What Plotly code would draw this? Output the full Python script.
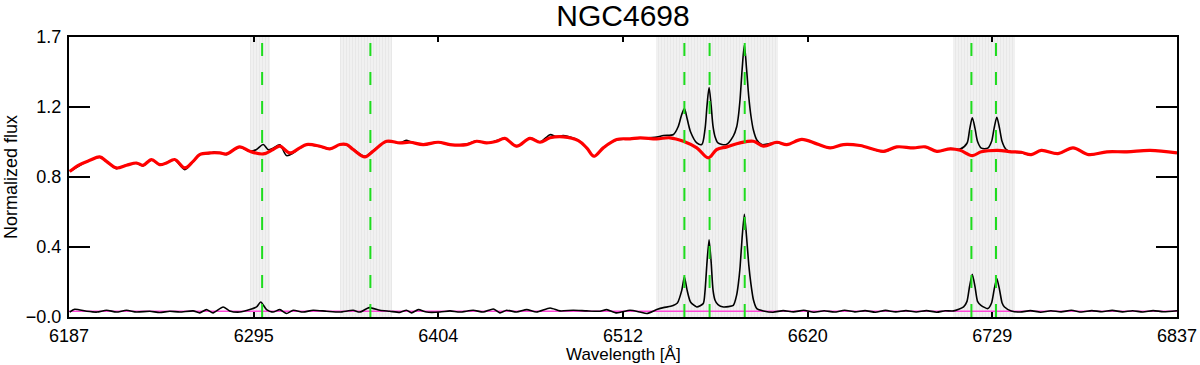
import plotly.graph_objects as go

# wavelength axis
x_ticks = [6187, 6295.33, 6403.67, 6512, 6620.33, 6728.67, 6837]
x_tick_labels = ["6187", "6295", "6404", "6512", "6620", "6729", "6837"]
y_ticks = [-0.035, 0.39, 0.815, 1.24, 1.665]
y_tick_labels = ["\u22120.0", "0.4", "0.8", "1.2", "1.7"]

# masked regions around emission lines (start, end in Angstrom)
mask_start = [6293.2, 6345.9, 6531.2, 6705.3]
mask_end = [6305.2, 6376.3, 6602.8, 6741.7]

# emission line centres
line_centres = [6300.3, 6363.8, 6548.0, 6562.8, 6583.4, 6716.4, 6730.8]

# stellar model (red)
model_wave = [6187.4, 6193.3, 6199.2, 6205.0, 6209.0, 6214.8, 6220.7, 6226.6, 6230.4, 6235.4,
              6240.2, 6244.2, 6249.0, 6254.9, 6259.8, 6263.7, 6269.6, 6275.5, 6279.4, 6287.2,
              6293.1, 6300.9, 6306.7, 6310.7, 6316.5, 6322.4, 6326.3, 6334.2, 6340.0, 6345.9,
              6349.8, 6353.7, 6360.6, 6365.4, 6373.3, 6381.1, 6387.0, 6394.8, 6403.6, 6410.5,
              6420.3, 6426.1, 6432.0, 6437.9, 6442.7, 6449.6, 6457.4, 6463.3, 6469.2, 6477.0,
              6485.8, 6490.7, 6495.0, 6500.4, 6508.3, 6516.1, 6522.0, 6531.8, 6539.6, 6547.4,
              6555.3, 6562.1, 6567.0, 6572.9, 6580.7, 6588.5, 6594.4, 6602.2, 6608.1, 6616.9,
              6625.7, 6633.5, 6641.3, 6651.1, 6664.8, 6672.6, 6682.4, 6689.3, 6696.1, 6704.0,
              6709.8, 6716.9, 6722.2, 6731.9, 6739.8, 6745.6, 6751.5, 6757.4, 6767.2, 6776.0,
              6785.1, 6795.9, 6807.6, 6821.3, 6837.0]
model_flux = [0.849, 0.890, 0.916, 0.937, 0.910, 0.870, 0.886, 0.900, 0.886, 0.921,
              0.890, 0.900, 0.921, 0.870, 0.910, 0.951, 0.961, 0.961, 0.955, 0.998,
              0.971, 0.955, 0.982, 1.002, 0.961, 0.992, 1.012, 1.002, 0.986, 1.012,
              1.012, 0.982, 0.937, 0.971, 1.032, 1.022, 1.026, 1.012, 1.026, 1.012,
              1.012, 1.032, 1.022, 1.032, 1.049, 1.002, 1.049, 1.026, 1.053, 1.059,
              1.036, 0.992, 0.941, 0.992, 1.043, 1.047, 1.053, 1.047, 1.053, 1.032,
              0.992, 0.931, 0.982, 0.998, 1.022, 1.032, 1.002, 1.026, 1.012, 1.043,
              1.016, 0.992, 1.012, 1.006, 0.971, 0.998, 0.992, 0.998, 0.971, 0.986,
              0.977, 0.945, 0.968, 0.977, 0.968, 0.965, 0.951, 0.977, 0.957, 0.992,
              0.951, 0.968, 0.968, 0.977, 0.961]

# observed spectrum (black, top)
obs_wave = [6187.4, 6193.3, 6199.2, 6205.0, 6209.0, 6214.8, 6220.7, 6226.6, 6230.4, 6235.4,
            6240.2, 6244.2, 6249.0, 6254.9, 6259.8, 6263.7, 6269.6, 6272.0, 6275.5, 6279.4,
            6283.0, 6287.2, 6293.1, 6297.0, 6300.9, 6304.0, 6306.7, 6310.7, 6314.6, 6318.5,
            6322.4, 6326.3, 6334.2, 6340.0, 6345.9, 6349.8, 6353.7, 6360.6, 6365.4, 6373.3,
            6381.1, 6385.0, 6387.0, 6394.8, 6403.6, 6410.5, 6420.3, 6426.1, 6432.0, 6437.9,
            6442.7, 6449.6, 6457.4, 6463.3, 6469.2, 6473.0, 6477.0, 6485.8, 6490.7, 6495.0,
            6500.4, 6508.3, 6516.1, 6522.0, 6531.8, 6535.7, 6541.6, 6544.5, 6546.3, 6548.0,
            6549.6, 6551.6, 6555.3, 6558.2, 6560.1, 6561.3, 6562.5, 6563.7, 6564.8, 6566.0,
            6567.7, 6572.6, 6576.7, 6578.7, 6579.7, 6580.7, 6581.9, 6583.2, 6584.5, 6585.8,
            6587.0, 6588.5, 6590.5, 6593.4, 6602.2, 6608.1, 6616.9, 6625.7, 6633.5, 6641.3,
            6651.1, 6664.8, 6672.6, 6682.4, 6689.3, 6696.1, 6704.0, 6709.8, 6713.8, 6715.3,
            6716.9, 6718.5, 6720.0, 6722.2, 6726.0, 6728.2, 6729.7, 6731.3, 6732.9, 6734.4,
            6736.5, 6739.8, 6745.6, 6751.5, 6757.4, 6767.2, 6776.0, 6785.1, 6795.9, 6807.6,
            6821.3, 6837.0]
obs_flux = [0.849, 0.885, 0.916, 0.935, 0.908, 0.866, 0.888, 0.898, 0.884, 0.919,
            0.888, 0.902, 0.918, 0.860, 0.908, 0.953, 0.958, 0.967, 0.962, 0.950,
            0.975, 0.996, 0.972, 0.982, 1.012, 0.980, 0.990, 1.010, 0.945, 0.960,
            0.990, 1.010, 1.000, 0.984, 1.012, 1.010, 0.985, 0.940, 0.975, 1.030,
            1.022, 1.038, 1.030, 1.010, 1.028, 1.010, 1.015, 1.035, 1.020, 1.036,
            1.050, 1.000, 1.052, 1.028, 1.072, 1.060, 1.066, 1.038, 0.990, 0.940,
            0.994, 1.040, 1.047, 1.050, 1.057, 1.067, 1.073, 1.124, 1.190, 1.230,
            1.170, 1.090, 1.022, 1.012, 1.104, 1.250, 1.358, 1.250, 1.124, 1.060,
            1.022, 1.012, 1.063, 1.120, 1.185, 1.290, 1.470, 1.616, 1.470, 1.300,
            1.190, 1.100, 1.040, 1.012, 1.024, 1.012, 1.043, 1.016, 0.990, 1.012,
            1.006, 0.968, 0.998, 0.990, 0.998, 0.970, 0.988, 0.985, 1.020, 1.100,
            1.175, 1.110, 1.030, 0.990, 0.990, 1.030, 1.110, 1.178, 1.110, 1.030,
            0.985, 0.968, 0.962, 0.950, 0.977, 0.955, 0.992, 0.950, 0.968, 0.970,
            0.977, 0.961]

# residual / emission-line spectrum (black, bottom)
res_wave = [6187.4, 6190.3, 6197.5, 6203.4, 6209.0, 6214.8, 6220.7, 6226.6, 6234.4, 6240.2,
            6246.1, 6252.0, 6259.8, 6263.7, 6267.6, 6271.5, 6277.4, 6281.3, 6287.2, 6293.1,
            6297.0, 6299.5, 6302.9, 6306.7, 6310.7, 6314.6, 6318.5, 6324.3, 6330.2, 6338.1,
            6345.9, 6353.7, 6357.6, 6363.1, 6369.4, 6375.2, 6381.1, 6385.0, 6388.0, 6391.9,
            6396.8, 6404.6, 6410.5, 6416.3, 6424.1, 6430.0, 6435.9, 6439.8, 6443.7, 6449.6,
            6455.5, 6461.3, 6469.2, 6475.0, 6482.8, 6490.7, 6498.5, 6502.4, 6508.3, 6516.1,
            6522.0, 6526.0, 6531.8, 6535.7, 6540.0, 6543.9, 6546.5, 6548.0, 6549.6, 6551.6,
            6555.3, 6559.1, 6560.1, 6561.3, 6562.5, 6563.7, 6564.8, 6566.0, 6567.7, 6570.9,
            6576.7, 6578.7, 6579.7, 6580.7, 6581.9, 6583.2, 6584.5, 6585.8, 6587.0, 6588.5,
            6590.5, 6594.4, 6600.0, 6606.0, 6612.0, 6618.0, 6624.0, 6630.0, 6636.0, 6642.0,
            6648.0, 6654.0, 6660.0, 6666.0, 6672.0, 6678.0, 6684.0, 6690.0, 6696.0, 6701.0,
            6705.9, 6711.8, 6713.8, 6715.3, 6716.9, 6718.5, 6720.0, 6722.0, 6726.0, 6728.2,
            6729.7, 6731.3, 6732.9, 6734.4, 6735.8, 6739.8, 6745.0, 6751.0, 6757.0, 6763.0,
            6769.0, 6775.0, 6781.0, 6787.0, 6793.0, 6799.0, 6805.0, 6811.0, 6817.0, 6823.0,
            6829.0, 6837.0]
res_flux = [-0.005, 0.012, 0.000, -0.005, 0.006, -0.005, 0.006, -0.005, 0.000, -0.008,
            0.000, -0.005, 0.002, -0.010, 0.010, -0.010, 0.026, 0.002, -0.005, 0.010,
            0.026, 0.056, 0.010, -0.005, 0.010, -0.014, 0.006, -0.005, 0.006, 0.000,
            -0.005, 0.006, -0.005, 0.022, 0.006, 0.000, -0.007, 0.006, -0.010, 0.010,
            -0.005, -0.005, 0.002, -0.005, 0.006, -0.005, 0.014, -0.010, 0.006, -0.005,
            0.010, -0.005, 0.020, 0.002, 0.006, 0.002, 0.000, 0.010, -0.010, 0.006,
            -0.005, -0.014, 0.010, 0.022, 0.030, 0.050, 0.128, 0.209, 0.128, 0.056,
            0.026, 0.047, 0.120, 0.300, 0.433, 0.300, 0.130, 0.067, 0.040, 0.026,
            0.036, 0.100, 0.169, 0.270, 0.450, 0.589, 0.450, 0.280, 0.169, 0.070,
            0.016, 0.002, -0.006, 0.004, -0.004, 0.006, -0.006, 0.003, -0.005, 0.006,
            -0.004, 0.004, -0.006, 0.005, -0.004, 0.004, -0.005, 0.004, -0.006, 0.003,
            0.002, 0.026, 0.060, 0.150, 0.225, 0.150, 0.060, 0.036, 0.016, 0.050,
            0.130, 0.199, 0.130, 0.050, 0.026, 0.002, -0.005, 0.004, -0.006, 0.003,
            -0.004, 0.006, -0.005, 0.004, -0.003, 0.005, -0.004, 0.003, -0.005, 0.004,
            -0.003, 0.003]

zero_wave = [6187, 6837]
zero_flux = [0.0, 0.0]

FONT = "Liberation Sans, Arial, Helvetica, sans-serif"
y_lo, y_hi = y_ticks[0], y_ticks[-1]

fig = go.Figure()

# hatched grey masks
fig.add_trace(go.Bar(
    x=[(a + b) / 2 for a, b in zip(mask_start, mask_end)],
    width=[b - a for a, b in zip(mask_start, mask_end)],
    y=[y_hi - y_lo] * len(mask_start),
    base=y_lo,
    marker=dict(
        color='#efefef',
        line=dict(width=0),
        pattern=dict(shape='|', size=3, solidity=0.25, fgcolor='#dadada', bgcolor='#f1f1f1'),
    ),
    hoverinfo='skip',
    showlegend=False,
))

fig.add_trace(go.Scatter(
    x=obs_wave, y=obs_flux, mode='lines',
    line=dict(color='black', width=1.6, shape='spline', smoothing=0.8),
    showlegend=False,
))
fig.add_trace(go.Scatter(
    x=model_wave, y=model_flux, mode='lines',
    line=dict(color='#ff0000', width=3.2, shape='spline', smoothing=1.0),
    showlegend=False,
))
fig.add_trace(go.Scatter(
    x=zero_wave, y=zero_flux, mode='lines',
    line=dict(color='#ff44d8', width=1.6),
    showlegend=False,
))
fig.add_trace(go.Scatter(
    x=res_wave, y=res_flux, mode='lines',
    line=dict(color='black', width=1.6, shape='spline', smoothing=0.6),
    showlegend=False,
))

# green dashed line markers
for lc in line_centres:
    fig.add_shape(
        type='line', xref='x', yref='y',
        x0=lc, x1=lc, y0=y_lo, y1=y_hi,
        line=dict(color='#1edc1e', width=2, dash='13px,16px'),
        layer='above',
    )

axis_common = dict(
    showline=True, linecolor='black', linewidth=2,
    mirror='ticks', ticks='inside', tickcolor='black', tickwidth=2,
    showgrid=False, zeroline=False, automargin=False,
    tickfont=dict(family=FONT, size=18, color='black'),
)

fig.update_layout(
    width=1200, height=365,
    paper_bgcolor='white', plot_bgcolor='white',
    margin=dict(l=69, r=23, t=37, b=48, autoexpand=False),
    bargap=0,
    title=dict(
        text='NGC4698', x=0.5, xref='paper', xanchor='center',
        y=1 - 15 / 365, yanchor='middle', yref='container',
        font=dict(family=FONT, size=30, color='black'),
    ),
    xaxis=dict(
        range=[6187, 6837],
        tickvals=x_ticks, ticktext=x_tick_labels,
        ticklen=5, ticklabelstandoff=1,
        **axis_common,
    ),
    yaxis=dict(
        range=[y_lo, y_hi],
        tickvals=y_ticks, ticktext=y_tick_labels,
        ticklen=21, ticklabelstandoff=2,
        **axis_common,
    ),
    annotations=[
        dict(text='Wavelength [Å]', xref='paper', yref='paper', x=0.5, y=0,
             xanchor='center', yanchor='middle', yshift=-37, showarrow=False,
             font=dict(family=FONT, size=17, color='black')),
        dict(text='Normalized flux', xref='paper', yref='paper', x=0, y=0.5,
             xanchor='center', yanchor='middle', xshift=-58, textangle=-90,
             showarrow=False, font=dict(family=FONT, size=18, color='black')),
    ],
)

# the page body has a default 8px margin; remove it so the figure sits at (0, 0)
fig.write_html("out.html", config={"displayModeBar": False},
               post_script="document.body.style.margin='0';")
